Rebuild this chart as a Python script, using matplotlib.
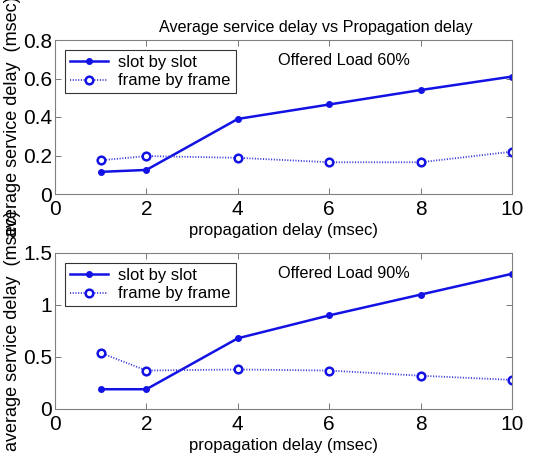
import matplotlib
matplotlib.use("Agg")
import matplotlib.pyplot as plt

plt.rcParams['font.family'] = ['Liberation Sans', 'DejaVu Sans']

prop_delay = [1, 2, 4, 6, 8, 10]

slot_60 = [0.115, 0.125, 0.39, 0.465, 0.54, 0.61]
frame_60 = [0.175, 0.197, 0.188, 0.165, 0.165, 0.22]

slot_90 = [0.19, 0.19, 0.68, 0.90, 1.10, 1.30]
frame_90 = [0.54, 0.37, 0.38, 0.37, 0.32, 0.28]

series_labels = ["slot by slot", "frame by frame"]
panel_notes = ["Offered Load 60%", "Offered Load 90%"]
title = "Average service delay vs Propagation delay"
xlabel = "propagation delay (msec)"
ylabel = "average service delay  (msec)"

blue = "#1212e4"

fig = plt.figure(figsize=(5.35, 4.54), dpi=100)
W, H = 535, 454
ax1 = fig.add_axes([55 / W, 1 - 194 / H, (512 - 55) / W, (194 - 40) / H])
ax2 = fig.add_axes([55 / W, 1 - 409 / H, (512 - 55) / W, (409 - 253) / H])

panels = [
    (ax1, slot_60, frame_60, panel_notes[0], 0.8, [0, 0.2, 0.4, 0.6, 0.8], ["0", "0.2", "0.4", "0.6", "0.8"]),
    (ax2, slot_90, frame_90, panel_notes[1], 1.5, [0, 0.5, 1, 1.5], ["0", "0.5", "1", "1.5"]),
]

for ax, slot, frame, note, ymax, yt, ytl in panels:
    ax.plot(prop_delay, slot, color=blue, lw=1.8, marker='o', ms=4,
            mfc=blue, mec=blue, label=series_labels[0])
    ax.plot(prop_delay, frame, color='#3838d8', lw=1.3, ls=(0, (0.6, 0.9)), marker='o',
            ms=5.5, mfc='white', mec=blue, mew=1.8, label=series_labels[1])
    ax.set_xlim(0, 10)
    ax.set_ylim(0, ymax)
    ax.set_xticks([0, 2, 4, 6, 8, 10])
    ax.set_yticks(yt)
    ax.set_yticklabels(ytl)
    ax.tick_params(direction='in', top=True, right=True, labelsize=15,
                   length=4, width=0.6, colors='#606060', labelcolor='black')
    ax.tick_params(axis='x', pad=4)
    ax.tick_params(axis='y', pad=2)
    for s in ax.spines.values():
        s.set_color('#808080')
        s.set_linewidth(0.8)
    ax.set_xlabel(xlabel, fontsize=12, labelpad=3)
    ax.set_ylabel(ylabel, fontsize=13, labelpad=0)
    ax.yaxis.set_label_coords(-0.075, 0.5)
    ax.text(0.632, 0.87, note, transform=ax.transAxes, ha='center', va='center', fontsize=11.7)
    leg = ax.legend(loc='upper left', fontsize=12, frameon=True, fancybox=False,
                    edgecolor='black', borderpad=0.3, handlelength=2.3,
                    handletextpad=0.6, labelspacing=0.2, borderaxespad=0.6)
    leg.get_frame().set_linewidth(0.8)

ax1.set_title(title, fontsize=11.6, x=0.57, pad=6)

fig.savefig("out.png", dpi=100)
